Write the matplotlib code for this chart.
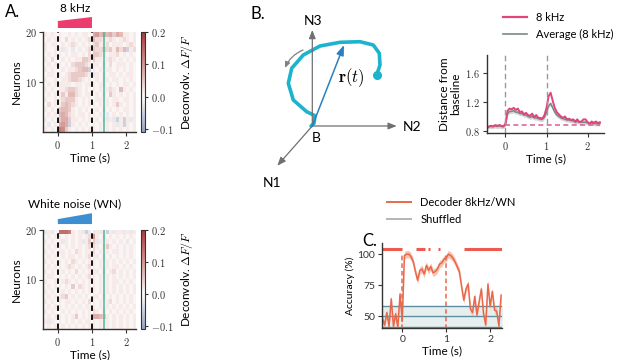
import numpy as np
import matplotlib.pyplot as plt
import seaborn as sns
from matplotlib.colors import ListedColormap
from matplotlib.patches import Polygon
from matplotlib.lines import Line2D
import matplotlib.transforms as mtransforms

plt.rcParams['mathtext.fontset'] = 'cm'
plt.rcParams['font.family'] = ['Lato', 'DejaVu Sans']

# ---------------- data ----------------
# heatmaps: 20 neurons (top row = neuron 20), 27 bins of 0.1 s from -0.4 to 2.3
# digit d -> d*0.016 dF/F, x/y/z -> negative values
heat_8k = [
    "1010" "1001010110" "5645453541101",
    "0101" "1020101012" "4221121012101",
    "1011" "0101210101" "2311201110121",
    "1001" "1x10x01012" "3223231424y12",
    "0101" "1010110102" "3321011201010",
    "1020" "0101011332" "3110121010101",
    "0101" "1010233321" "1101020111010",
    "1010" "010112344y" "1010110101010",
    "0110" "1012333321" "x101011010110",
    "1001" "0112332101" "0101101101010",
    "0101" "1111011011" "1011010101101",
    "1010" "1123321010" "1010121041010",
    "0101" "1314421011" "0101031010101",
    "1001" "1233310101" "0110101101101",
    "0201" "1343210101" "1010101310101",
    "1010" "3443101010" "0101010101101",
    "0101" "4542101101" "1010x01010101",
    "1010" "3553110101" "0101x1xy1y1x1",
    "0x01" "565y101010" "1010101x1y101",
    "1010" "8731010101" "1010101010101",
]
heat_wn = [
    "x1x0" "9998101xyx" "x1x1y1x11x1x1",
    "0101" "1010101012" "6101010101010",
    "1010" "1x10101x13" "3x10101010x01",
    "0101" "1010101012" "2101310101010",
    "1010" "1101021011" "2010101101010",
    "0101" "0101101012" "1101010101010",
    "1010" "1010210101" "1010101010101",
    "0101" "1012101012" "1010101101010",
    "1010" "0101020101" "1101012010101",
    "0110" "1010101012" "1010101010101",
    "1001" "0121010101" "1010101101010",
    "0101" "1010302101" "1010101010101",
    "1010" "0101010101" "1010101010101",
    "0101" "1230101010" "1101010101010",
    "1010" "1011010102" "1010120101010",
    "0101" "1010101011" "1010101010101",
    "1010" "0101010101" "2101010101010",
    "0101" "1010130101" "5543101010101",
    "1x10" "1010101011" "1010101010101",
    "0101" "0101010101" "1010101010101",
]
heat_t0, heat_t1 = -0.4, 2.3
n_neurons = 20

# distance from baseline (panel B), t = -0.45 .. 2.3 step 0.05
dist_t = np.arange(-0.45, 2.3001, 0.05)
dist_8k = [0.84, 0.86, 0.87, 0.86, 0.88, 0.87, 0.88, 0.87, 0.86,
           0.90, 1.08, 1.11, 1.10, 1.12, 1.09, 1.11, 1.06, 1.07, 1.03,
           1.05, 1.02, 1.01, 1.04, 0.99, 1.02, 0.98, 0.98, 0.97, 1.02,
           1.12, 1.28, 1.33, 1.22, 1.12, 1.06, 1.03, 1.00, 0.98, 1.00,
           0.96, 0.97, 0.95, 0.96, 0.93, 0.96, 0.92, 0.93, 0.96, 0.96,
           0.92, 0.90, 0.93, 0.91, 0.93, 0.91, 0.92]
dist_avg = [0.85, 0.86, 0.86, 0.86, 0.87, 0.86, 0.87, 0.86, 0.86,
            0.89, 1.04, 1.07, 1.07, 1.08, 1.06, 1.06, 1.04, 1.04, 1.02,
            1.02, 1.00, 0.99, 1.00, 0.98, 0.98, 0.97, 0.96, 0.96, 0.99,
            1.06, 1.15, 1.18, 1.12, 1.06, 1.02, 1.00, 0.98, 0.97, 0.96,
            0.95, 0.95, 0.94, 0.94, 0.92, 0.93, 0.92, 0.92, 0.92, 0.92,
            0.91, 0.90, 0.91, 0.90, 0.90, 0.90, 0.90]
dist_avg_sem = 0.03
dist_base = 0.88

# decoder accuracy (panel C), t = -0.45 .. 2.25 step 0.05
acc_t = np.arange(-0.45, 2.2501, 0.05)
acc = [48, 43, 53, 42, 64, 42, 52, 41, 68,
       46, 99, 100, 100, 98, 94, 86, 79, 87, 88,
       84, 91, 87, 90, 85, 86, 88, 92, 93, 96,
       97, 100, 99, 97, 94, 90, 86, 74, 63, 72,
       76, 56, 53, 66, 51, 62, 72, 52, 43, 76,
       58, 70, 55, 54, 42, 67]
acc_sem = 3
shuffled_lines = [41.8, 50, 58.1]
signif = [(-0.48, 0.0), (0.32, 0.51), (0.58, 0.64), (0.81, 0.86), (1.40, 2.27)]

# schematic trajectory (panel B), figure pixel coords
traj_x = [376.7, 380, 379.3, 373.3, 360, 340, 320, 303.3, 291.7, 288.3, 293.3, 306.7, 315, 314, 311]
traj_y = [75, 65, 53.3, 45, 41.7, 42.3, 46, 55, 68.3, 83.3, 100, 111.7, 115.7, 123.3, 126]

W, H = 617, 360
fig = plt.figure(figsize=(W / 100, H / 100), dpi=100)


def px(l, t, r, b):
    return [l / W, 1 - b / H, (r - l) / W, (b - t) / H]


def decode(rows):
    neg = {'x': -0.025, 'y': -0.05, 'z': -0.1}
    return np.array([[neg[c] if c in neg else int(c) * 0.016 for c in r] for r in rows])


cmap = ListedColormap(sns.color_palette("vlag", as_cmap=True)(np.linspace(0.225, 1.0, 256)))
dark = '#333333'
mathfmt = plt.FuncFormatter(lambda v, p: f'${v:g}$')
fs = 8.5


def style(ax):
    for s in ['top', 'right']:
        ax.spines[s].set_visible(False)
    for s in ['left', 'bottom']:
        ax.spines[s].set_color(dark)
        ax.spines[s].set_linewidth(1.0)
    ax.tick_params(length=3, width=0.8, labelsize=7.5, colors=dark, pad=2)


def heat_panel(rect, cbrect, rows, title, wedge_col, wedge_y):
    ax = fig.add_axes(rect)
    ax.imshow(decode(rows), cmap=cmap, vmin=-0.11, vmax=0.2, aspect='auto',
              extent=[heat_t0, heat_t1, 0, n_neurons], interpolation='nearest')
    ax.set_xlim(-0.42, 2.29)
    ax.set_ylim(0, 20)
    for t in [0, 1]:
        ax.axvline(t, color='black', lw=1.3, ls=(0, (3, 2)), gapcolor='white')
    ax.axvline(1.36, color='#4cb79a', lw=1.1)
    ax.set_xticks([0, 1, 2])
    ax.set_yticks([10, 20])
    ax.xaxis.set_major_formatter(mathfmt)
    ax.yaxis.set_major_formatter(mathfmt)
    style(ax)
    ax.set_xlabel('Time (s)', fontsize=fs, labelpad=1)
    ax.set_ylabel('Neurons', fontsize=fs, labelpad=2)
    tr = mtransforms.blended_transform_factory(ax.transData, ax.transAxes)
    b, l, r = wedge_y
    ax.add_patch(Polygon([(0, b), (0, l), (1, r), (1, b)], closed=True, transform=tr,
                         color=wedge_col, clip_on=False, lw=0))
    ax.text(0.5, r + 0.09, title, transform=tr, ha='center', va='center', fontsize=fs)
    cax = fig.add_axes(cbrect)
    cb = fig.colorbar(ax.images[0], cax=cax, ticks=[-0.1, 0, 0.1, 0.2])
    cb.ax.set_yticklabels(['$-0.1$', '$0.0$', '$0.1$', '$0.2$'])
    cb.ax.tick_params(length=2.5, width=0.8, labelsize=7.5, colors=dark, pad=2)
    cb.outline.set_edgecolor(dark)
    cb.set_label(r'Deconvolv. $\Delta F/F$', fontsize=fs, labelpad=4)


heat_panel(px(43.5, 32, 136, 132), px(141, 32, 145, 132), heat_8k, '8 kHz', '#ec3d6f', (1.04, 1.11, 1.15))
heat_panel(px(43.5, 230, 136, 329), px(141, 230, 145, 329), heat_wn, 'White noise (WN)', '#3d8fd1', (1.06, 1.11, 1.17))

# ---------------- panel B schematic ----------------
axs = fig.add_axes([240 / W, 1 - 200 / H, 200 / W, 200 / H])
axs.set_xlim(240, 440)
axs.set_ylim(200, 0)
axs.axis('off')
ox, oy = 312.3, 126
axis_kw = dict(arrowstyle='-|>,head_length=0.5,head_width=0.2', color='#707070', lw=0.9, shrinkA=0, shrinkB=0)
axs.annotate('', xy=(ox, 30), xytext=(ox, oy), arrowprops=axis_kw)
axs.annotate('', xy=(396.7, oy), xytext=(ox, oy), arrowprops=axis_kw)
axs.annotate('', xy=(277.3, 165.7), xytext=(ox, oy), arrowprops=axis_kw)
axs.text(312.7, 20.7, 'N3', ha='center', va='center', fontsize=10)
axs.text(411.7, 127, 'N2', ha='center', va='center', fontsize=10)
axs.text(271.7, 182.7, 'N1', ha='center', va='center', fontsize=10)
axs.text(316, 138, 'B', ha='center', va='center', fontsize=10)
axs.plot(traj_x, traj_y, color='#1cb3cc', lw=2.6, solid_capstyle='round')
axs.plot(traj_x[0], traj_y[0], 'o', color='#1cb3cc', ms=5.5)
axs.annotate('', xy=(344, 45), xytext=(ox, oy),
             arrowprops=dict(arrowstyle='-|>,head_length=0.6,head_width=0.22', color='#2a7fc0',
                             lw=1.1, shrinkA=0, shrinkB=0))
axs.text(351, 78, r'$\mathbf{r}(t)$', ha='center', va='center', fontsize=12)
axs.annotate('', xy=(285, 68), xytext=(303, 50),
             arrowprops=dict(arrowstyle='-|>,head_length=0.35,head_width=0.15', color='#808080',
                             lw=0.9, connectionstyle='arc3,rad=0.2', shrinkA=0, shrinkB=0))

# ---------------- panel B distance ----------------
axd = fig.add_axes(px(487, 55, 604, 133))
axd.fill_between(dist_t, np.array(dist_avg) - dist_avg_sem, np.array(dist_avg) + dist_avg_sem,
                 color='#d5d5d5', lw=0)
axd.plot(dist_t, dist_avg, color='#7a8a8a', lw=1.1)
axd.plot(dist_t, dist_8k, color='#e0457b', lw=1.4)
axd.plot([0, 2.3], [dist_base, dist_base], color='#e0679a', lw=1.2, ls=(0, (3, 2)))
for t in [0, 1]:
    axd.axvline(t, color='#999999', lw=1.0, ls=(0, (4, 2.5)))
axd.set_xlim(-0.45, 2.4)
axd.set_ylim(0.77, 1.855)
axd.set_xticks([0, 1, 2])
axd.set_yticks([0.8, 1.2, 1.6])
axd.xaxis.set_major_formatter(mathfmt)
axd.yaxis.set_major_formatter(mathfmt)
style(axd)
axd.set_xlabel('Time (s)', fontsize=fs, labelpad=1)
axd.set_ylabel('Distance from\nbaseline', fontsize=fs, labelpad=3, linespacing=1.0)
h = [Line2D([], [], color='#e0457b', lw=1.6), Line2D([], [], color='#7a8a8a', lw=1.2)]
axd.legend(h, ['8 kHz', 'Average (8 kHz)'], loc='upper left', bbox_to_anchor=(503 / W, 1 - 12 / H),
           bbox_transform=fig.transFigure, frameon=False, fontsize=8, handlelength=2.2,
           handletextpad=0.8, labelspacing=0.5, borderpad=0, borderaxespad=0)

# ---------------- panel C decoder ----------------
axc = fig.add_axes(px(382, 243, 502, 328))
axc.fill_between([-0.5, 2.3], shuffled_lines[0], shuffled_lines[2], color='#e6efee', lw=0)
for v in shuffled_lines:
    axc.axhline(v, color='#5e8ea1', lw=1.0)
acc_a = np.array(acc, dtype=float)
axc.fill_between(acc_t, acc_a - acc_sem, acc_a + acc_sem, color='#f6c3b2', lw=0)
axc.plot(acc_t, acc_a, color='#e8684a', lw=1.1)
for t in [0, 1]:
    axc.plot([t, t], [40, 100], color='#e8684a', lw=1.1, ls=(0, (3, 2)))
for a, b in signif:
    axc.plot([a, b], [104.5, 104.5], color='#ec5a50', lw=2.2, solid_capstyle='butt')
axc.set_xlim(-0.46, 2.27)
axc.set_ylim(40.6, 109)
axc.set_xticks([0, 1, 2])
axc.set_yticks([50, 75, 100])
style(axc)
axc.set_xlabel('Time (s)', fontsize=fs, labelpad=1)
axc.set_ylabel('Accuracy (%)', fontsize=7.5, labelpad=2)
h = [Line2D([], [], color='#e8684a', lw=1.4), Line2D([], [], color='#b5b5b5', lw=1.4)]
axc.legend(h, ['Decoder 8kHz/WN', 'Shuffled'], loc='upper left', bbox_to_anchor=(387 / W, 1 - 197 / H),
           bbox_transform=fig.transFigure, frameon=False, fontsize=8, handlelength=2.2,
           handletextpad=0.8, labelspacing=0.5, borderpad=0, borderaxespad=0)

# panel letters
fig.text(5 / W, 1 - 12 / H, 'A.', fontsize=12, ha='left', va='center')
fig.text(251 / W, 1 - 14 / H, 'B.', fontsize=12, ha='left', va='center')
fig.text(362 / W, 1 - 241 / H, 'C.', fontsize=12, ha='left', va='center')

fig.savefig('out.png', dpi=100)
